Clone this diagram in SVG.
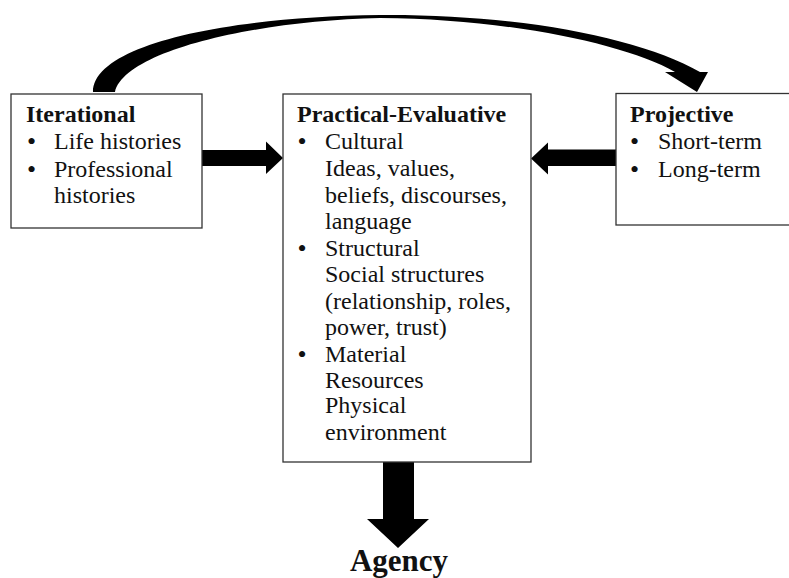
<svg xmlns="http://www.w3.org/2000/svg" width="789" height="578" viewBox="0 0 789 578">
<style>
.box{fill:#fff;stroke:#333;stroke-width:1.3}
text{font-family:"Liberation Serif","Times New Roman",serif;font-size:24px;fill:#111}
.t{font-weight:bold}
.b{font-size:26px}
.arr{fill:#000}
</style>
<rect width="789" height="578" fill="#fff"/>
<g id="connectors">
<path class="arr" d="M93,92 C93,46 220,17 380,15 C520,14 640,38 700,72 L708,72 L697,92 L665,72 L675,72 C625,44 510,19 380,18 C250,21 124,52 115,92 Z"/>
<path class="arr" d="M202,150 L266,150 L266,141.5 L283,158 L266,174 L266,166 L202,166 Z"/>
<path class="arr" d="M616,149.5 L548,149.5 L548,142.5 L531,158.5 L548,174.5 L548,166 L616,166 Z"/>
<path class="arr" d="M383,462 L414,462 L414,519 L429,519 L398,548 L367,519 L383,519 Z"/>
</g>
<g id="iterational">
<rect class="box" x="11" y="94" width="191" height="134"/>
<text class="t" x="26" y="122">Iterational</text>
<text class="b" x="27" y="150">•</text>
<text x="54" y="149">Life histories</text>
<text class="b" x="27" y="178">•</text>
<text x="54" y="177">Professional</text>
<text x="54" y="203">histories</text>
</g>
<g id="practical-evaluative">
<rect class="box" x="283" y="94" width="248" height="368"/>
<text class="t" x="297" y="122">Practical-Evaluative</text>
<text class="b" x="297.5" y="150">•</text>
<text x="325" y="149">Cultural</text>
<text x="325" y="176">Ideas, values,</text>
<text x="325" y="203">beliefs, discourses,</text>
<text x="325" y="229">language</text>
<text class="b" x="297.5" y="257">•</text>
<text x="325" y="256">Structural</text>
<text x="325" y="282">Social structures</text>
<text x="325" y="309">(relationship, roles,</text>
<text x="325" y="335">power, trust)</text>
<text class="b" x="297.5" y="363">•</text>
<text x="325" y="362">Material</text>
<text x="325" y="388">Resources</text>
<text x="325" y="413">Physical</text>
<text x="325" y="440">environment</text>
</g>
<g id="projective">
<rect class="box" x="616" y="93.5" width="180" height="131.5"/>
<text class="t" x="630" y="122">Projective</text>
<text class="b" x="630" y="150">•</text>
<text x="658" y="149">Short-term</text>
<text class="b" x="630" y="178">•</text>
<text x="658" y="177">Long-term</text>
</g>
<g id="agency">
<text class="t" x="399" y="571" text-anchor="middle" style="font-size:31px">Agency</text>
</g>
</svg>
